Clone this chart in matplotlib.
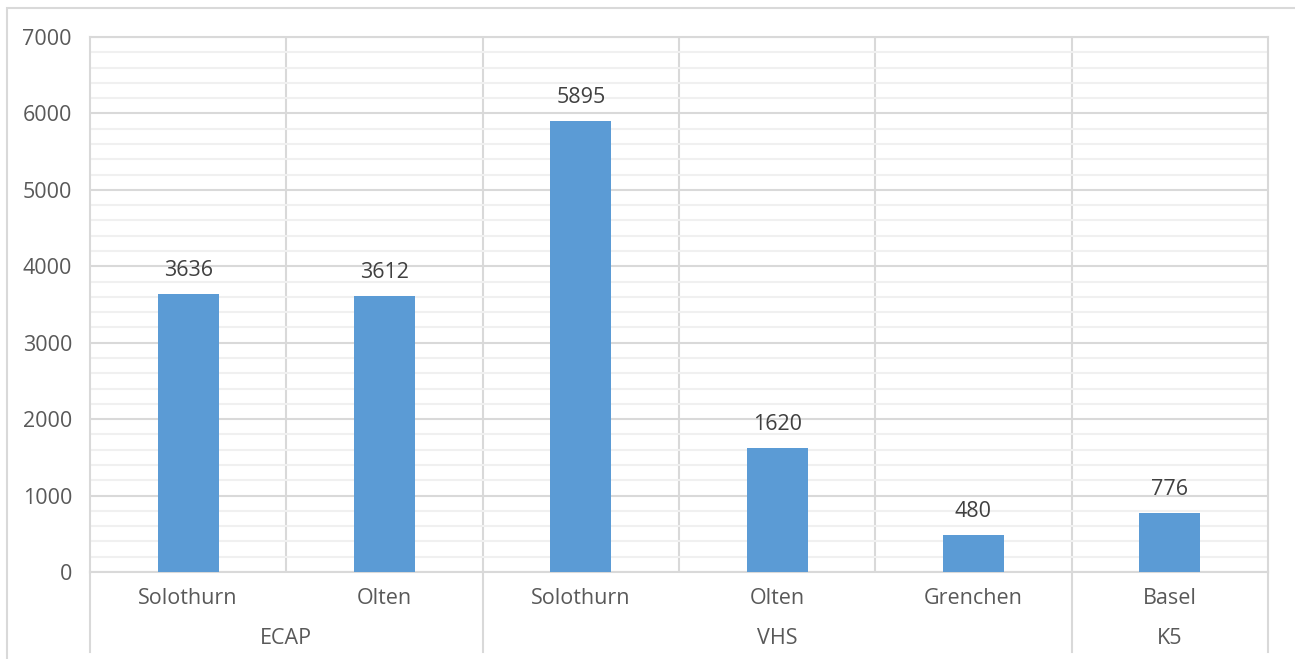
import matplotlib.pyplot as plt
from matplotlib.patches import Rectangle
from matplotlib.transforms import blended_transform_factory

# Dados
locations = ["Solothurn", "Olten", "Solothurn", "Olten", "Grenchen", "Basel"]
values = [3636, 3612, 5895, 1620, 480, 776]
groups = ["ECAP", "VHS", "K5"]
group_sizes = [2, 3, 1]

bar_color = "#5b9bd5"
major_grid = "#d9d9d9"
minor_grid = "#f0f0f0"
tick_color = "#595959"
label_color = "#404040"
fs = 15.5

plt.rcParams["font.family"] = ["Open Sans", "DejaVu Sans"]

W, H = 1295, 659
fig = plt.figure(figsize=(W / 100, H / 100), dpi=100, facecolor="white")

# Moldura externa (só topo e esquerda visíveis)
fig.patches.append(Rectangle((7 / W, -0.05), 2.0, 1 - 8 / H + 0.05,
                             transform=fig.transFigure, fill=False,
                             edgecolor="#d9d9d9", linewidth=1.5))

left, right, top, bottom = 90, 1268, 37, 572
ax = fig.add_axes([left / W, (H - bottom) / H, (right - left) / W, (bottom - top) / H])

x = list(range(len(values)))
ax.bar(x, values, width=0.31, color=bar_color, zorder=3)
ax.set_xlim(-0.5, len(values) - 0.5)
ax.set_ylim(0, 7000)

ax.set_yticks(range(0, 7001, 1000))
ax.set_yticks(range(0, 7001, 200), minor=True)
ax.grid(axis="y", which="major", color=major_grid, linewidth=1.5, zorder=0)
ax.grid(axis="y", which="minor", color=minor_grid, linewidth=1.5, zorder=0)
ax.tick_params(axis="y", which="both", length=0, labelsize=fs, labelcolor=tick_color, pad=13)
ax.set_xticks([])

for s in ax.spines.values():
    s.set_color(major_grid)
    s.set_linewidth(1.5)

for i in range(1, len(values)):
    ax.axvline(i - 0.5, color=major_grid, linewidth=1.5, zorder=1)

# Rótulos de dados
for xi, v in zip(x, values):
    ax.annotate(f"{v}", (xi, v), xytext=(0, 17), textcoords="offset points",
                ha="center", va="center", fontsize=fs, color=label_color)

# Eixo de categorias em dois níveis
trans = blended_transform_factory(ax.transData, ax.transAxes)
for xi, name in zip(x, locations):
    ax.text(xi, -26 / 535, name, transform=trans, ha="center", va="center",
            fontsize=fs, color=tick_color)

start = 0
bounds = [-0.5]
for g, n in zip(groups, group_sizes):
    center = start + (n - 1) / 2
    ax.text(center, -66 / 535, g, transform=trans, ha="center", va="center",
            fontsize=fs, color=tick_color)
    start += n
    bounds.append(start - 0.5)

for b in bounds:
    ax.plot([b, b], [0, -80 / 535], transform=trans, color=major_grid,
            linewidth=1.5, clip_on=False)

fig.savefig("out.png", dpi=100)
